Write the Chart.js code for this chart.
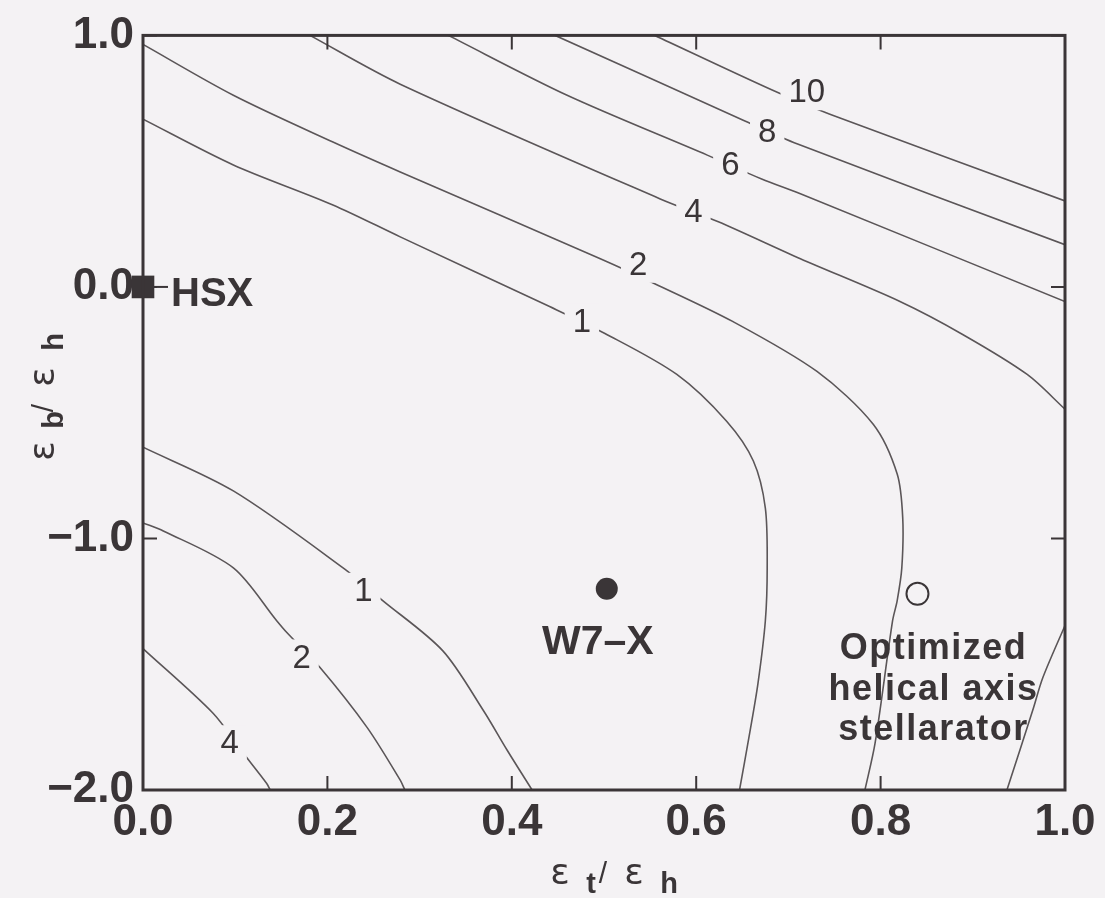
<!DOCTYPE html>
<html>
<head>
<meta charset="utf-8">
<script src="https://cdn.jsdelivr.net/npm/chart.js@4.4.1/dist/chart.umd.min.js"></script>
<style>
html, body { margin: 0; padding: 0; background: #f4f2f4; }
</style>
</head>
<body>
<canvas id="chart" width="1105" height="898"></canvas>
<script>
// axis ticks
const xTicks = [0, 0.2, 0.4, 0.6, 0.8, 1.0];
const yTicks = [1, 0, -1, -2];

// contour lines, [x, y]
const c10 = [[0.555, 1.0], [0.683, 0.782], [0.745, 0.687], [1.0, 0.342]];
const c8 = [[0.447, 1.0], [0.651, 0.663], [0.710, 0.568], [1.0, 0.168]];
const c6 = [[0.331, 1.0], [0.460, 0.762], [0.612, 0.524], [0.671, 0.429], [0.713, 0.370], [1.0, -0.058]];
const c4top = [[0.181, 1.0], [0.279, 0.806], [0.561, 0.350], [0.624, 0.259], [0.713, 0.112],
  [0.821, -0.058], [0.889, -0.189], [0.959, -0.348], [1.0, -0.486]];
const c2top = [[0.0, 0.964], [0.098, 0.762], [0.206, 0.576], [0.279, 0.457], [0.496, 0.112],
  [0.555, 0.013], [0.640, -0.138], [0.731, -0.336], [0.792, -0.546], [0.818, -0.744],
  [0.824, -0.918], [0.823, -1.117], [0.818, -1.247], [0.813, -1.327], [0.794, -1.814], [0.783, -2.0]];
const c1top = [[0.0, 0.667], [0.098, 0.485], [0.206, 0.326], [0.279, 0.199], [0.441, -0.078],
  [0.501, -0.185], [0.579, -0.348], [0.633, -0.534], [0.662, -0.692], [0.675, -0.879],
  [0.677, -1.117], [0.675, -1.327], [0.667, -1.576], [0.658, -1.774], [0.647, -2.0]];
const c1low = [[0.0, -0.637], [0.098, -0.811], [0.217, -1.117], [0.260, -1.247], [0.325, -1.446],
  [0.369, -1.683], [0.395, -1.842], [0.422, -2.0]];
const c2low = [[0.0, -0.938], [0.022, -0.970], [0.098, -1.117], [0.145, -1.327], [0.156, -1.374],
  [0.192, -1.513], [0.243, -1.751], [0.279, -1.961], [0.284, -2.0]];
const c4low = [[0.0, -1.438], [0.076, -1.695], [0.108, -1.850], [0.134, -1.973], [0.138, -2.0]];
const c1right = [[1.0, -1.346], [0.976, -1.553], [0.965, -1.683], [0.937, -2.0]];

const contours = [c10, c8, c6, c4top, c2top, c1top, c1low, c2low, c4low, c1right];

// contour level labels: text, x, y
const levelLabels = [
  ['10', 0.720, 0.774], ['8', 0.677, 0.616], ['6', 0.637, 0.485], ['4', 0.597, 0.298],
  ['2', 0.537, 0.088], ['1', 0.476, -0.138], ['1', 0.239, -1.208], ['2', 0.172, -1.473],
  ['4', 0.094, -1.814]
];

// devices
const hsx = [0.0, 0.0];
const w7x = [0.503, -1.2];
const optimized = [0.84, -1.22];

const ink = '#3a3537';
const lineInk = '#5b5658';
const bg = '#f4f2f4';

const toPts = arr => arr.map(p => ({ x: p[0], y: p[1] }));
const fmt = v => (v < 0 ? '\u2212' : '') + Math.abs(v).toFixed(1);

const datasets = contours.map(c => ({
  data: toPts(c),
  showLine: true,
  borderColor: lineInk,
  borderWidth: 1.6,
  pointRadius: 0,
  tension: 0.3,
  fill: false
}));

datasets.push({
  data: toPts([hsx]), pointStyle: 'rect', pointRadius: 16, backgroundColor: ink,
  borderColor: ink, borderWidth: 0, clip: false
});
datasets.push({
  data: toPts([w7x]), pointStyle: 'circle', pointRadius: 11, backgroundColor: ink,
  borderColor: ink, borderWidth: 0
});
datasets.push({
  data: toPts([optimized]), pointStyle: 'circle', pointRadius: 11, backgroundColor: bg,
  borderColor: ink, borderWidth: 2
});

const background = {
  id: 'background',
  beforeDraw(chart) {
    const ctx = chart.ctx;
    ctx.save();
    ctx.fillStyle = bg;
    ctx.fillRect(0, 0, chart.width, chart.height);
    ctx.restore();
  }
};

// box with inward ticks on all four sides
const frame = {
  id: 'frame',
  afterDatasetsDraw(chart) {
    const { ctx, chartArea: a, scales } = chart;
    ctx.save();
    ctx.strokeStyle = ink;
    ctx.lineWidth = 2;
    const len = 14;
    ctx.beginPath();
    xTicks.forEach(v => {
      const px = scales.x.getPixelForValue(v);
      ctx.moveTo(px, a.bottom); ctx.lineTo(px, a.bottom - len);
      ctx.moveTo(px, a.top); ctx.lineTo(px, a.top + len);
    });
    yTicks.forEach(v => {
      const py = scales.y.getPixelForValue(v);
      ctx.moveTo(a.left, py); ctx.lineTo(a.left + len, py);
      ctx.moveTo(a.right, py); ctx.lineTo(a.right - len, py);
    });
    ctx.stroke();
    ctx.lineWidth = 3;
    ctx.strokeRect(a.left, a.top, a.right - a.left, a.bottom - a.top);
    ctx.restore();
  }
};

const notes = {
  id: 'notes',
  afterDatasetsDraw(chart) {
    const { ctx, scales } = chart;
    const X = v => scales.x.getPixelForValue(v);
    const Y = v => scales.y.getPixelForValue(v);
    ctx.save();

    // level labels, masking the line beneath
    ctx.font = '33px "Liberation Sans", Arial, sans-serif';
    ctx.textAlign = 'center';
    ctx.textBaseline = 'middle';
    levelLabels.forEach(([t, x, y]) => {
      const px = X(x), py = Y(y);
      const w = ctx.measureText(t).width + 16;
      ctx.fillStyle = bg;
      ctx.fillRect(px - w / 2, py - 18, w, 36);
      ctx.fillStyle = ink;
      ctx.fillText(t, px, py + 1);
    });

    // HSX
    const hx = X(hsx[0]), hy = Y(hsx[1]);
    ctx.strokeStyle = ink;
    ctx.lineWidth = 2;
    ctx.beginPath();
    ctx.moveTo(hx + 10, hy); ctx.lineTo(hx + 25, hy);
    ctx.stroke();
    ctx.fillStyle = ink;
    ctx.textAlign = 'left';
    ctx.textBaseline = 'alphabetic';
    ctx.font = 'bold 40px "Liberation Sans", Arial, sans-serif';
    ctx.fillText('HSX', hx + 28, hy + 19);

    // W7-X
    ctx.textAlign = 'center';
    ctx.font = 'bold 41px "Liberation Sans", Arial, sans-serif';
    ctx.fillText('W7\u2013X', X(w7x[0]) - 9, Y(w7x[1]) + 65);

    // optimized helical axis stellarator
    const ox = X(optimized[0]) + 16, oy = Y(optimized[1]);
    ctx.font = 'bold 36px "Liberation Sans", Arial, sans-serif';
    ctx.letterSpacing = '1.5px';
    ctx.fillText('Optimized', ox, oy + 65);
    ctx.fillText('helical axis', ox, oy + 106);
    ctx.fillText('stellarator', ox, oy + 146);
    ctx.letterSpacing = '0px';
    ctx.restore();
  }
};

// axis titles: epsilon ratios with subscripts
function drawRatio(ctx, sub1, sub2) {
  ctx.fillStyle = ink;
  ctx.textBaseline = 'alphabetic';
  ctx.textAlign = 'center';
  ctx.font = '36px "DejaVu Sans", sans-serif';
  ctx.fillText('\u03b5', -46, -9);
  ctx.fillText('\u03b5', 28, -9);
  ctx.font = '30px "Liberation Sans", Arial, sans-serif';
  ctx.fillText('/', -3, -10);
  ctx.font = 'bold 29px "Liberation Sans", Arial, sans-serif';
  ctx.fillText(sub1, -15, 0);
  ctx.fillText(sub2, 63, 0);
}

const titles = {
  id: 'titles',
  afterDraw(chart) {
    const { ctx, chartArea: a } = chart;
    ctx.save();
    ctx.translate((a.left + a.right) / 2 + 2, a.bottom + 103);
    drawRatio(ctx, 't', 'h');
    ctx.restore();
    ctx.save();
    ctx.translate(63, 405);
    ctx.rotate(-Math.PI / 2);
    drawRatio(ctx, 'b', 'h');
    ctx.restore();
  }
};

const tickFont = { family: '"Liberation Sans", Arial, sans-serif', size: 44, weight: 'bold' };

new Chart(document.getElementById('chart'), {
  type: 'scatter',
  data: { datasets },
  options: {
    responsive: false,
    devicePixelRatio: 1,
    animation: false,
    layout: { padding: { top: 33, right: 40, left: 0, bottom: 0 } },
    plugins: { legend: { display: false }, tooltip: { enabled: false } },
    scales: {
      x: {
        type: 'linear',
        min: 0, max: 1,
        afterBuildTicks: s => { s.ticks = xTicks.map(v => ({ value: v })); },
        afterFit: s => { s.height = 108; },
        grid: { display: false, drawTicks: false },
        border: { display: false },
        ticks: { callback: fmt, font: tickFont, color: ink, padding: 6, maxRotation: 0, autoSkip: false }
      },
      y: {
        type: 'linear',
        min: -2, max: 1,
        afterBuildTicks: s => { s.ticks = yTicks.map(v => ({ value: v })); },
        afterFit: s => { s.width = 143; },
        grid: { display: false, drawTicks: false },
        border: { display: false },
        ticks: { callback: fmt, font: tickFont, color: ink, padding: 9, autoSkip: false }
      }
    }
  },
  plugins: [background, frame, notes, titles]
});
</script>
</body>
</html>
